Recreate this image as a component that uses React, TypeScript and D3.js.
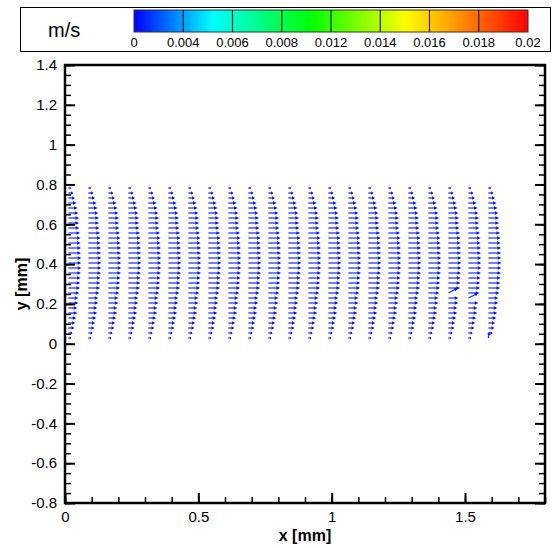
import React, { useEffect, useRef } from "react";
import * as d3 from "d3";

// vector grid (mm)
const colX = [
  0.0125, 0.0875, 0.1625, 0.2375, 0.3125, 0.3875, 0.4625, 0.5375, 0.6125, 0.6875, 0.7625,
  0.8375, 0.9125, 0.9875, 1.0625, 1.1375, 1.2125, 1.2875, 1.3625, 1.4375, 1.5125, 1.5875,
];
const rowY = [
  0.03, 0.055, 0.08, 0.105, 0.13, 0.155, 0.18, 0.205, 0.23, 0.255, 0.28, 0.305, 0.33, 0.355,
  0.38, 0.405, 0.43, 0.455, 0.48, 0.505, 0.53, 0.555, 0.58, 0.605, 0.63, 0.655, 0.68, 0.705,
  0.73, 0.755, 0.78,
];
// streamwise velocity (m/s) per row, bottom to top
const rowU = [
  0.000135, 0.000215, 0.0003, 0.000335, 0.0004, 0.00045, 0.00045, 0.0005, 0.0005, 0.00055,
  0.000585, 0.0006, 0.000615, 0.000635, 0.00065, 0.00065, 0.00065, 0.000635, 0.000635,
  0.000615, 0.000615, 0.000585, 0.00055, 0.000535, 0.000535, 0.0005, 0.000465, 0.000415,
  0.000335, 0.00025, 0.000135,
];
// a few odd vectors near the outlet
const outliers = [
  { col: 19, y: 0.255, u: 0.00048, v: 0.00025 },
  { col: 20, y: 0.23, u: 0.0005, v: 0.00025 },
  { col: 21, y: 0.03, u: 0.00005, v: 0.0003 },
];

const levelValues = [0, 0.004, 0.006, 0.008, 0.012, 0.014, 0.016, 0.018, 0.02];
const levelLabels = ["0", "0.004", "0.006", "0.008", "0.012", "0.014", "0.016", "0.018", "0.02"];
const mapStops = [0, 0.2, 0.45, 0.69, 1];
const mapColors = ["#0000ff", "#00ffff", "#00ff00", "#ffff00", "#ff0000"];

const xTicks = [0, 0.5, 1, 1.5];
const yTicks = [1.4, 1.2, 1, 0.8, 0.6, 0.4, 0.2, 0, -0.2, -0.4, -0.6, -0.8];

const W = 553;
const H = 548;
const VEC_SCALE = 20000; // px per m/s
const FONT = "'Liberation Sans', Arial, sans-serif";

const App = () => {
  const ref = useRef<SVGSVGElement>(null);

  useEffect(() => {
    const svg = d3.select(ref.current);
    svg.selectAll("*").remove();

    const left = 65, right = 545, top = 65, bottom = 503;
    const x = d3.scaleLinear().domain([0, 1.8]).range([left, right]);
    const y = d3.scaleLinear().domain([-0.8, 1.4]).range([bottom, top]);

    const pos = d3.scaleLinear().domain(levelValues).range(levelValues.map((_, i) => i / (levelValues.length - 1))).clamp(true);
    const cmap = d3.scaleLinear<string>().domain(mapStops).range(mapColors).interpolate(d3.interpolateRgb);

    // legend
    const leg = svg.append("g");
    leg.append("rect").attr("x", 20.5).attr("y", 7.5).attr("width", 530).attr("height", 44)
      .attr("fill", "white").attr("stroke", "black").attr("stroke-width", 1);
    leg.append("text").attr("x", 48).attr("y", 37).attr("font-family", FONT).attr("font-size", 20).text("m/s");

    const bx = d3.scaleLinear().domain([0, 1]).range([134, 528]);
    const grad = svg.append("defs").append("linearGradient").attr("id", "cbar");
    d3.range(0, 1.0001, 0.02).forEach((t) => {
      grad.append("stop").attr("offset", t).attr("stop-color", cmap(t));
    });
    leg.append("rect").attr("x", bx(0)).attr("y", 10).attr("width", bx(1) - bx(0)).attr("height", 22)
      .attr("fill", "url(#cbar)").attr("stroke", "#333").attr("stroke-width", 1);
    leg.selectAll("line.div").data(levelValues.slice(1, -1)).join("line")
      .attr("x1", (d) => bx(pos(d))).attr("x2", (d) => bx(pos(d)))
      .attr("y1", 10).attr("y2", 32).attr("stroke", "#222").attr("stroke-width", 1.2);
    leg.selectAll("text.lab").data(levelValues).join("text")
      .attr("x", (d) => bx(pos(d))).attr("y", 47).attr("text-anchor", "middle")
      .attr("font-family", FONT).attr("font-size", 13).text((_, i) => levelLabels[i]);

    // vectors
    type Vec = { x: number; y: number; u: number; v: number };
    const vecs: Vec[] = [];
    colX.forEach((cx, ci) => {
      rowY.forEach((ry, ri) => {
        const o = outliers.find((p) => p.col === ci && Math.abs(p.y - ry) < 1e-6);
        vecs.push(o ? { x: cx, y: ry, u: o.u, v: o.v } : { x: cx, y: ry, u: rowU[ri], v: 0 });
      });
    });
    const vg = svg.append("g");
    vecs.forEach((d) => {
      const x0 = x(d.x), y0 = Math.round(y(d.y));
      const dx = d.u * VEC_SCALE, dy = -d.v * VEC_SCALE;
      const len = Math.hypot(dx, dy);
      if (len < 0.5) return;
      const ux = dx / len, uy = dy / len;
      const col = cmap(pos(Math.hypot(d.u, d.v)));
      const h = Math.min(3.6, len * 0.45), w = 1.7;
      const tx = x0 + dx, ty = y0 + dy;
      vg.append("line").attr("x1", x0).attr("y1", y0).attr("x2", tx - ux * h * 0.5).attr("y2", ty - uy * h * 0.5)
        .attr("stroke", col).attr("stroke-width", 1.3).attr("stroke-opacity", 0.85);
      vg.append("path")
        .attr("d", `M${tx},${ty}L${tx - ux * h - uy * w},${ty - uy * h + ux * w}L${tx - ux * h + uy * w},${ty - uy * h - ux * w}Z`)
        .attr("fill", col);
    });

    // axes, ticks pointing inward
    const fmt = (d: d3.NumberValue) => String(+(+d).toFixed(2));
    const style = (g: d3.Selection<SVGGElement, unknown, null, undefined>, sw: number) => {
      g.select(".domain").remove();
      g.selectAll("line").attr("stroke-width", sw);
      g.selectAll("text").attr("font-family", FONT).attr("font-size", 15).attr("fill", "black");
    };

    svg.append("g").attr("transform", `translate(${left},0)`)
      .call(d3.axisLeft(y).tickValues(y.ticks(44)).tickSizeInner(-6).tickFormat(() => ""))
      .call((g) => style(g, 1.5));
    svg.append("g").attr("transform", `translate(${left},0)`)
      .call(d3.axisLeft(y).tickValues(yTicks).tickSizeInner(-10).tickPadding(8).tickFormat(fmt))
      .call((g) => style(g, 2));
    svg.append("g").attr("transform", `translate(${right},0)`)
      .call(d3.axisRight(y).tickValues(y.ticks(44)).tickSizeInner(-6).tickFormat(() => ""))
      .call((g) => style(g, 1.5));
    svg.append("g").attr("transform", `translate(${right},0)`)
      .call(d3.axisRight(y).tickValues(yTicks).tickSizeInner(-10).tickFormat(() => ""))
      .call((g) => style(g, 2));
    svg.append("g").attr("transform", `translate(0,${bottom})`)
      .call(d3.axisBottom(x).tickValues(x.ticks(18)).tickSizeInner(-6).tickFormat(() => ""))
      .call((g) => style(g, 1.5));
    svg.append("g").attr("transform", `translate(0,${bottom})`)
      .call(d3.axisBottom(x).tickValues(xTicks).tickSizeInner(-10).tickPadding(8).tickFormat(fmt))
      .call((g) => style(g, 2));

    svg.append("rect").attr("x", left).attr("y", top).attr("width", right - left).attr("height", bottom - top)
      .attr("fill", "none").attr("stroke", "black").attr("stroke-width", 2.5);

    svg.append("text").attr("x", (left + right) / 2).attr("y", 541).attr("text-anchor", "middle")
      .attr("font-family", FONT).attr("font-size", 16).attr("font-weight", "bold").text("x [mm]");
    svg.append("text").attr("transform", `translate(27,${(top + bottom) / 2}) rotate(-90)`)
      .attr("text-anchor", "middle").attr("font-family", FONT).attr("font-size", 16)
      .attr("font-weight", "bold").text("y [mm]");
  }, []);

  return (
    <svg ref={ref} width={W} height={H}
      style={{ position: "absolute", left: 0, top: 0, background: "white", display: "block" }} />
  );
};

export default App;
